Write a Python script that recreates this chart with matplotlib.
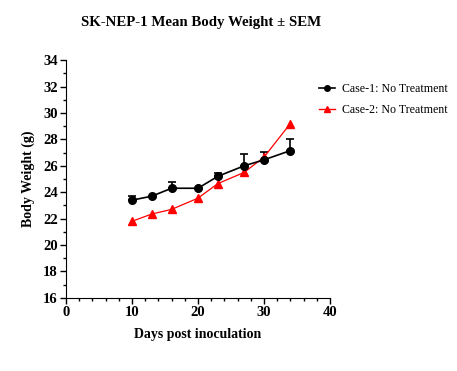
import numpy as np
import matplotlib
matplotlib.use('Agg')
import matplotlib.pyplot as plt
from matplotlib.ticker import MultipleLocator
from matplotlib.lines import Line2D

days = [10, 13, 16, 20, 23, 27, 30, 34]
case1_mean = [23.4, 23.7, 24.3, 24.3, 25.2, 26.0, 26.45, 27.15]
case1_sem = [0.35, 0.05, 0.5, 0.05, 0.25, 0.9, 0.6, 0.85]
case2_mean = [21.8, 22.35, 22.7, 23.55, 24.65, 25.5, 26.65, 29.2]

plt.rcParams['font.family'] = ['Liberation Serif', 'DejaVu Serif']

fig = plt.figure(figsize=(4.57, 3.71), dpi=100)
ax = fig.add_axes([0.1444, 0.197, 0.5776, 0.641])

# case 1 with upward error bars only
ax.errorbar(days, case1_mean, yerr=[np.zeros(len(case1_sem)), case1_sem],
            color='black', marker='o', markersize=5.5, linewidth=1.2,
            capsize=3, elinewidth=1.2, capthick=1.2)

# case 2, no error bars
ax.plot(days, case2_mean, color='red', marker='^', markersize=5.5,
        linewidth=0.9)

ax.set_xlim(0, 40)
ax.set_ylim(16, 34)
ax.xaxis.set_major_locator(MultipleLocator(10))
ax.xaxis.set_minor_locator(MultipleLocator(2))
ax.yaxis.set_major_locator(MultipleLocator(2))
ax.yaxis.set_minor_locator(MultipleLocator(1))
ax.spines['top'].set_visible(False)
ax.spines['right'].set_visible(False)
ax.tick_params(which='major', length=4, width=1, labelsize=10.5, pad=2)
ax.tick_params(which='minor', length=2, width=1)
for lab in ax.get_xticklabels() + ax.get_yticklabels():
    lab.set_fontweight('bold')

ax.set_xlabel('Days post inoculation', fontsize=10, fontweight='bold', labelpad=6)
ax.set_ylabel('Body Weight (g)', fontsize=10, fontweight='bold', labelpad=6)
fig.text(0.44, 0.94, 'SK-NEP-1 Mean Body Weight \u00b1 SEM', ha='center', va='center',
         fontsize=10.7, fontweight='bold')

handles = [Line2D([], [], color='black', marker='o', markersize=4, linewidth=1.2),
           Line2D([], [], color='red', marker='^', markersize=4, linewidth=1)]
fig.legend(handles, ['Case-1: No Treatment', 'Case-2: No Treatment'],
           loc='upper left', bbox_to_anchor=(0.675, 0.805), frameon=False,
           fontsize=8.6, handlelength=1.3, handletextpad=0.6, labelspacing=0.75)

fig.savefig('out.png', dpi=100)
